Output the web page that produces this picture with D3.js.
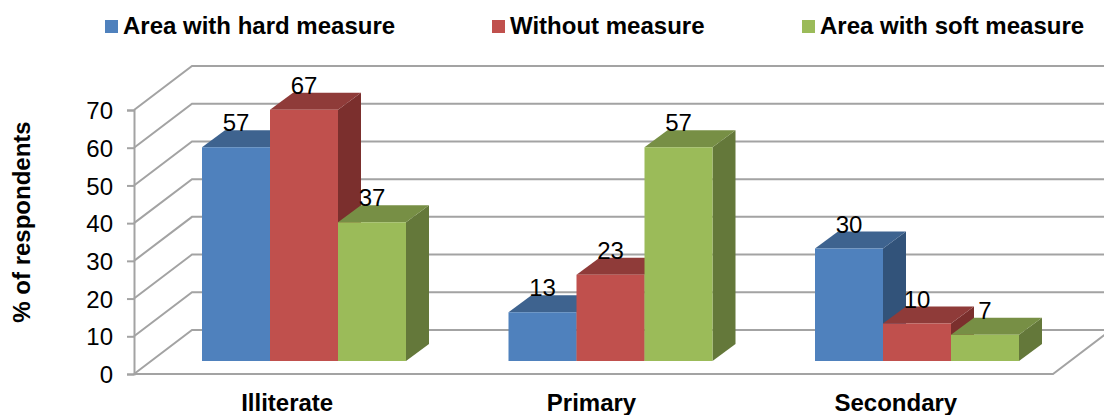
<!DOCTYPE html>
<html>
<head>
<meta charset="utf-8">
<script src="https://cdn.jsdelivr.net/npm/d3@7"></script>
<style>
  html, body { margin: 0; padding: 0; background: #fff; }
  svg { display: block; font-family: "Liberation Sans", Arial, sans-serif; }
</style>
</head>
<body>
<svg id="chart" width="1104" height="415"></svg>
<script>
const categories = ["Illiterate", "Primary", "Secondary"];
const seriesNames = ["Area with hard measure", "Without measure", "Area with soft measure"];
const hardMeasure = [57, 13, 30];
const withoutMeasure = [67, 23, 10];
const softMeasure = [37, 57, 7];
const yTicks = [0, 10, 20, 30, 40, 50, 60, 70];
const frontColors = ["#4F81BD", "#C0504D", "#9BBB59"];
const topColors = ["#3E638F", "#8F3B39", "#778F45"];
const sideColors = ["#32537A", "#7B2F2D", "#64783A"];

const seriesValues = [hardMeasure, withoutMeasure, softMeasure];
const svg = d3.select("#chart");

// Wall scale (front edge of the floor) and bar scale (bars sit partway into the depth).
const yWall = d3.scaleLinear().domain([0, 70]).range([374, 110]);
const yBar = d3.scaleLinear().domain([0, 70]).range([361, 98.5]);
const xGroup = d3.scaleBand().domain(categories).range([202, 1121.5]);
const xInner = d3.scaleBand().domain(d3.range(3)).range([0, 204]);
const xLabel = d3.scaleBand().domain(categories).range([135, 1048]);

const wallLeft = 134, wallRight = 1053, wallDx = 58, wallDy = -44;
const barDx = 23, barDy = -17;
const gridColor = "#A3A3A3";

// Back and side wall gridlines
const grid = svg.append("g").attr("fill", "none").attr("stroke", gridColor).attr("stroke-width", 2);
grid.selectAll("path").data(yTicks).join("path")
  .attr("d", v => {
    const p = d3.path();
    p.moveTo(wallLeft, yWall(v));
    p.lineTo(wallLeft + wallDx, yWall(v) + wallDy);
    p.lineTo(wallRight + wallDx, yWall(v) + wallDy);
    return p.toString();
  });

// Front edge of the floor and its right-hand edge
const floor = d3.path();
floor.moveTo(wallLeft, yWall(0));
floor.lineTo(wallRight, yWall(0));
floor.lineTo(wallRight + wallDx, yWall(0) + wallDy);
grid.append("path").attr("d", floor.toString());

// Value axis
const yAxis = d3.axisLeft(yWall).tickValues(yTicks).tickSize(7).tickPadding(14).tickFormat(d3.format("d"));
const axisG = svg.append("g").attr("transform", `translate(${wallLeft},0)`).call(yAxis);
axisG.selectAll("path, line").attr("stroke", gridColor).attr("stroke-width", 2);
axisG.selectAll("text").attr("font-size", 24).attr("font-family", "inherit").attr("fill", "#000").attr("y", 1);

// Three-faced bars, drawn series by series so nearer faces overlap
const bars = svg.append("g");
seriesValues.forEach((values, s) => {
  const g = bars.append("g");
  categories.forEach((cat, c) => {
    const x0 = xGroup(cat) + xInner(s);
    const x1 = x0 + xInner.bandwidth();
    const yTop = yBar(values[c]);
    const yBase = yBar(0);
    const poly = pts => pts.map(p => p.join(",")).join(" ");
    g.append("polygon").attr("fill", sideColors[s])
      .attr("points", poly([[x1, yTop], [x1 + barDx, yTop + barDy], [x1 + barDx, yBase + barDy], [x1, yBase]]));
    g.append("polygon").attr("fill", topColors[s])
      .attr("points", poly([[x0, yTop], [x0 + barDx, yTop + barDy], [x1 + barDx, yTop + barDy], [x1, yTop]]));
    g.append("rect").attr("fill", frontColors[s])
      .attr("x", x0).attr("y", yTop).attr("width", x1 - x0).attr("height", yBase - yTop);
  });
});

// Value labels above each bar
const labels = svg.append("g").attr("font-size", 24).attr("text-anchor", "middle").attr("fill", "#000");
seriesValues.forEach((values, s) => {
  categories.forEach((cat, c) => {
    labels.append("text")
      .attr("x", xGroup(cat) + xInner(s) + xInner.bandwidth() / 2)
      .attr("y", yBar(values[c]) - 16)
      .text(values[c]);
  });
});

// Category labels
svg.append("g").attr("font-size", 24).attr("font-weight", "bold").attr("text-anchor", "middle")
  .selectAll("text").data(categories).join("text")
  .attr("x", d => xLabel(d) + xLabel.bandwidth() / 2)
  .attr("y", 411)
  .text(d => d);

// Value axis title
svg.append("text")
  .attr("transform", "translate(30,222) rotate(-90)")
  .attr("text-anchor", "middle").attr("font-size", 24).attr("font-weight", "bold")
  .text("% of respondents");

// Legend
const legendX = d3.scaleOrdinal().domain(seriesNames).range([105, 492, 802]);
const legend = svg.append("g").selectAll("g").data(seriesNames).join("g")
  .attr("transform", d => `translate(${legendX(d)},0)`);
legend.append("rect").attr("y", 20).attr("width", 13).attr("height", 13)
  .attr("fill", (d, i) => frontColors[i]);
legend.append("text").attr("x", 18).attr("y", 34)
  .attr("font-size", 24).attr("font-weight", "bold").text(d => d);
</script>
</body>
</html>
